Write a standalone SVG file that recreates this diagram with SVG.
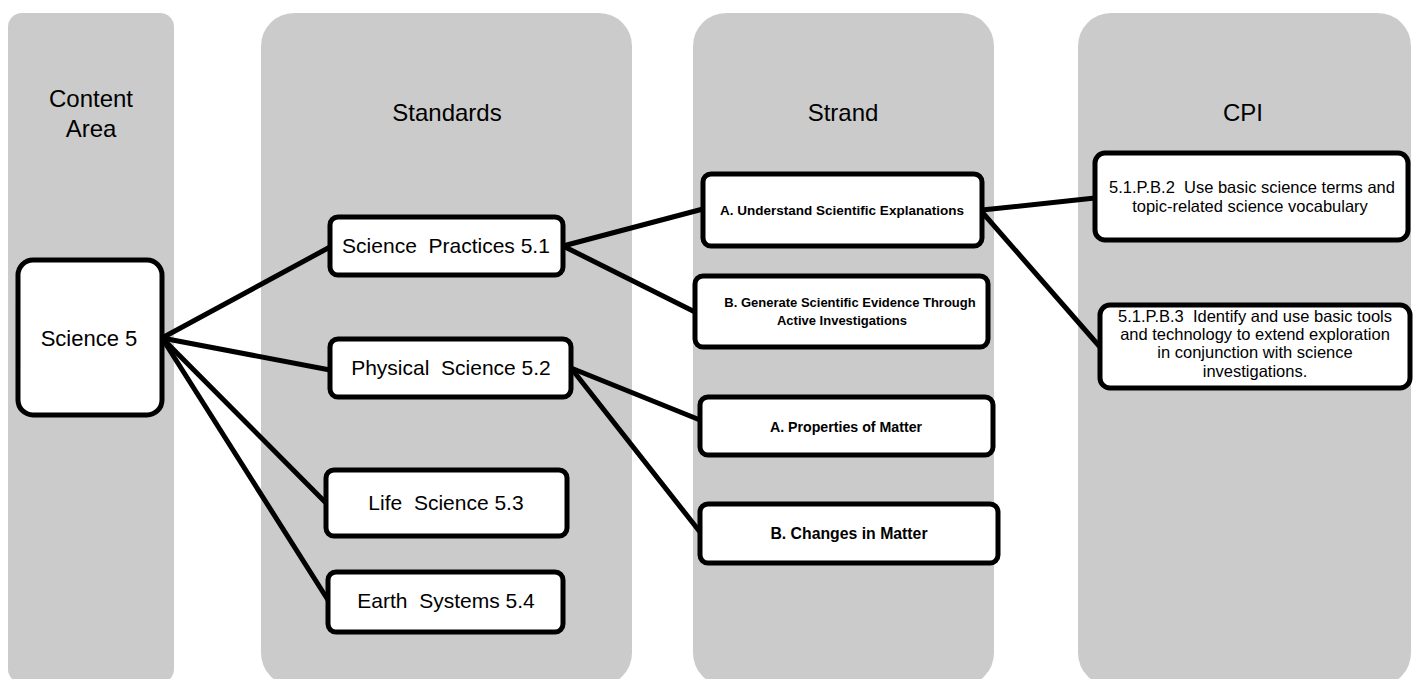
<svg xmlns="http://www.w3.org/2000/svg" width="1416" height="679" viewBox="0 0 1416 679">
<style>
.col{fill:#cbcbcb;}
.box{fill:#fff;stroke:#000;stroke-width:5;}
.hdr{font-family:"Liberation Sans",Arial,sans-serif;font-size:24px;fill:#000;text-anchor:middle;}
.std{font-family:"Liberation Sans",Arial,sans-serif;font-size:21px;fill:#000;text-anchor:middle;}
.str{font-family:"Liberation Sans",Arial,sans-serif;font-weight:bold;font-size:13.5px;fill:#000;text-anchor:middle;}
.cpi{font-family:"Liberation Sans",Arial,sans-serif;font-size:16.5px;fill:#000;text-anchor:middle;}
.conn line{stroke:#000;stroke-width:5;stroke-linecap:round;}
</style>
<rect width="1416" height="679" fill="#fff"/>
<g id="columns">
  <rect class="col" x="8" y="13" width="166" height="670" rx="14"/>
  <rect class="col" x="261" y="13" width="371" height="673" rx="33"/>
  <rect class="col" x="693" y="13" width="301" height="673" rx="33"/>
  <rect class="col" x="1078" y="13" width="333" height="673" rx="33"/>
  <text class="hdr" x="91" y="107">Content</text>
  <text class="hdr" x="91" y="137">Area</text>
  <text class="hdr" x="447" y="121">Standards</text>
  <text class="hdr" x="843" y="121">Strand</text>
  <text class="hdr" x="1243" y="121">CPI</text>
</g>
<g id="connectors" class="conn">
  <line x1="162" y1="338" x2="330" y2="247"/>
  <line x1="162" y1="338" x2="330" y2="370"/>
  <line x1="162" y1="338" x2="326" y2="503"/>
  <line x1="162" y1="338" x2="328" y2="600"/>
  <line x1="563" y1="246" x2="703" y2="209"/>
  <line x1="563" y1="246" x2="695" y2="312"/>
  <line x1="571" y1="368" x2="700" y2="420"/>
  <line x1="571" y1="368" x2="700" y2="532"/>
  <line x1="982" y1="210" x2="1095" y2="198"/>
  <line x1="982" y1="212" x2="1100" y2="347"/>
</g>
<g id="science5">
  <rect class="box" x="18" y="260" width="144" height="155" rx="15"/>
  <text class="std" x="89" y="346" style="font-size:22px">Science 5</text>
</g>
<g id="std51">
  <rect class="box" x="330" y="217" width="233" height="58" rx="8"/>
  <text class="std" x="446" y="253" xml:space="preserve">Science  Practices 5.1</text>
</g>
<g id="std52">
  <rect class="box" x="330" y="339" width="241" height="58" rx="8"/>
  <text class="std" x="451" y="375" xml:space="preserve">Physical  Science 5.2</text>
</g>
<g id="std53">
  <rect class="box" x="326" y="470" width="241" height="66" rx="8"/>
  <text class="std" x="446" y="510" xml:space="preserve">Life  Science 5.3</text>
</g>
<g id="std54">
  <rect class="box" x="328" y="572" width="235" height="60" rx="8"/>
  <text class="std" x="446" y="608" xml:space="preserve">Earth  Systems 5.4</text>
</g>
<g id="strandA1">
  <rect class="box" x="703" y="174" width="279" height="72" rx="8"/>
  <text class="str" x="842" y="215">A. Understand Scientific Explanations</text>
</g>
<g id="strandB1">
  <rect class="box" x="695" y="276" width="293" height="71" rx="8"/>
  <text class="str" x="850" y="307" style="font-size:13px">B. Generate Scientific Evidence Through</text>
  <text class="str" x="842" y="325" style="font-size:13px">Active Investigations</text>
</g>
<g id="strandA2">
  <rect class="box" x="700" y="397" width="293" height="58" rx="8"/>
  <text class="str" x="846" y="432" style="font-size:14.2px">A. Properties of Matter</text>
</g>
<g id="strandB2">
  <rect class="box" x="700" y="504" width="298" height="59" rx="8"/>
  <text class="str" x="849" y="539" style="font-size:15.8px">B. Changes in Matter</text>
</g>
<g id="cpi1">
  <rect class="box" x="1095" y="153" width="313" height="87" rx="10"/>
  <text class="cpi" x="1252" y="193" xml:space="preserve">5.1.P.B.2  Use basic science terms and</text>
  <text class="cpi" x="1250" y="212">topic-related science vocabulary</text>
</g>
<g id="cpi2">
  <rect class="box" x="1100" y="305" width="310" height="83" rx="10"/>
  <text class="cpi" x="1255" y="322" xml:space="preserve">5.1.P.B.3  Identify and use basic tools</text>
  <text class="cpi" x="1255" y="340">and technology to extend exploration</text>
  <text class="cpi" x="1255" y="358">in conjunction with science</text>
  <text class="cpi" x="1255" y="377">investigations.</text>
</g>
</svg>
